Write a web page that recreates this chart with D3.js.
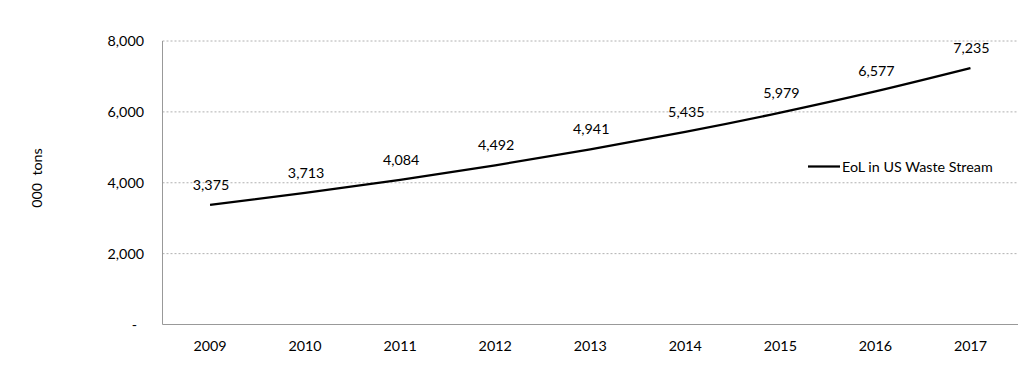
<!DOCTYPE html>
<html>
  <head>
    <meta charset="utf-8" />
    <script src="https://d3js.org/d3.v7.min.js"></script>
    <style>
      body { margin: 0; background: #fff; }
      text { font-family: Lato, "Open Sans", sans-serif; font-size: 14.3px; fill: #000; }
    </style>
  </head>
  <body>
    <svg id="viz"></svg>
    <script>
      var years = ["2009", "2010", "2011", "2012", "2013", "2014", "2015", "2016", "2017"];
      var values = [3375, 3713, 4084, 4492, 4941, 5435, 5979, 6577, 7235];
      var yTicks = [0, 2000, 4000, 6000, 8000];
      var seriesName = "EoL in US Waste Stream";

      var width = 1020, height = 371;
      var margin = {top: 41, right: 2, bottom: 46.5, left: 162.5};

      var svg = d3.select("#viz").attr("width", width).attr("height", height);

      var x = d3.scaleBand()
          .domain(years)
          .range([margin.left, width - margin.right]);

      var y = d3.scaleLinear()
          .domain([0, 8000])
          .range([height - margin.bottom, margin.top]);

      var fmt = d3.format(",");

      // gridlines
      svg.append("g").selectAll("line")
          .data(yTicks.filter(function(d) { return d > 0; }))
          .enter().append("line")
          .attr("x1", margin.left).attr("x2", width - margin.right)
          .attr("y1", function(d) { return y(d); })
          .attr("y2", function(d) { return y(d); })
          .attr("stroke", "#b0b0b0")
          .attr("stroke-dasharray", "2,2")
          .attr("stroke-width", 1);

      // axes lines
      svg.append("line")
          .attr("x1", margin.left).attr("x2", margin.left)
          .attr("y1", y(8000)).attr("y2", y(0))
          .attr("stroke", "#999").attr("stroke-width", 1);
      svg.append("line")
          .attr("x1", margin.left).attr("x2", width - margin.right)
          .attr("y1", y(0)).attr("y2", y(0))
          .attr("stroke", "#999").attr("stroke-width", 1);

      // y tick labels
      svg.append("g").selectAll("text")
          .data(yTicks)
          .enter().append("text")
          .attr("x", function(d) { return d === 0 ? 137 : 144; })
          .attr("y", function(d) { return y(d) + 5; })
          .attr("text-anchor", "end")
          .text(function(d) { return d === 0 ? "-" : fmt(d); });

      // x labels
      svg.append("g").selectAll("text")
          .data(years)
          .enter().append("text")
          .attr("x", function(d) { return x(d) + x.bandwidth() / 2; })
          .attr("y", 351)
          .attr("text-anchor", "middle")
          .text(function(d) { return d; });

      // y title
      svg.append("text")
          .attr("transform", "translate(42,178) rotate(-90)")
          .attr("text-anchor", "middle")
          .attr("xml:space", "preserve")
          .text("000  tons");

      // line
      var line = d3.line()
          .x(function(d, i) { return x(years[i]) + x.bandwidth() / 2; })
          .y(function(d) { return y(d); })
          .curve(d3.curveMonotoneX);

      svg.append("path")
          .datum(values)
          .attr("d", line)
          .attr("fill", "none")
          .attr("stroke", "#000")
          .attr("stroke-width", 2.25);

      // data labels
      svg.append("g").selectAll("text")
          .data(values)
          .enter().append("text")
          .attr("x", function(d, i) { return x(years[i]) + x.bandwidth() / 2 + 1; })
          .attr("y", function(d) { return y(d) - 15; })
          .attr("text-anchor", "middle")
          .text(function(d) { return fmt(d); });

      // legend
      svg.append("line")
          .attr("x1", 808).attr("x2", 840)
          .attr("y1", 166.5).attr("y2", 166.5)
          .attr("stroke", "#000").attr("stroke-width", 2.25);
      svg.append("text")
          .attr("x", 842).attr("y", 172)
          .text(seriesName);
    </script>
  </body>
</html>
